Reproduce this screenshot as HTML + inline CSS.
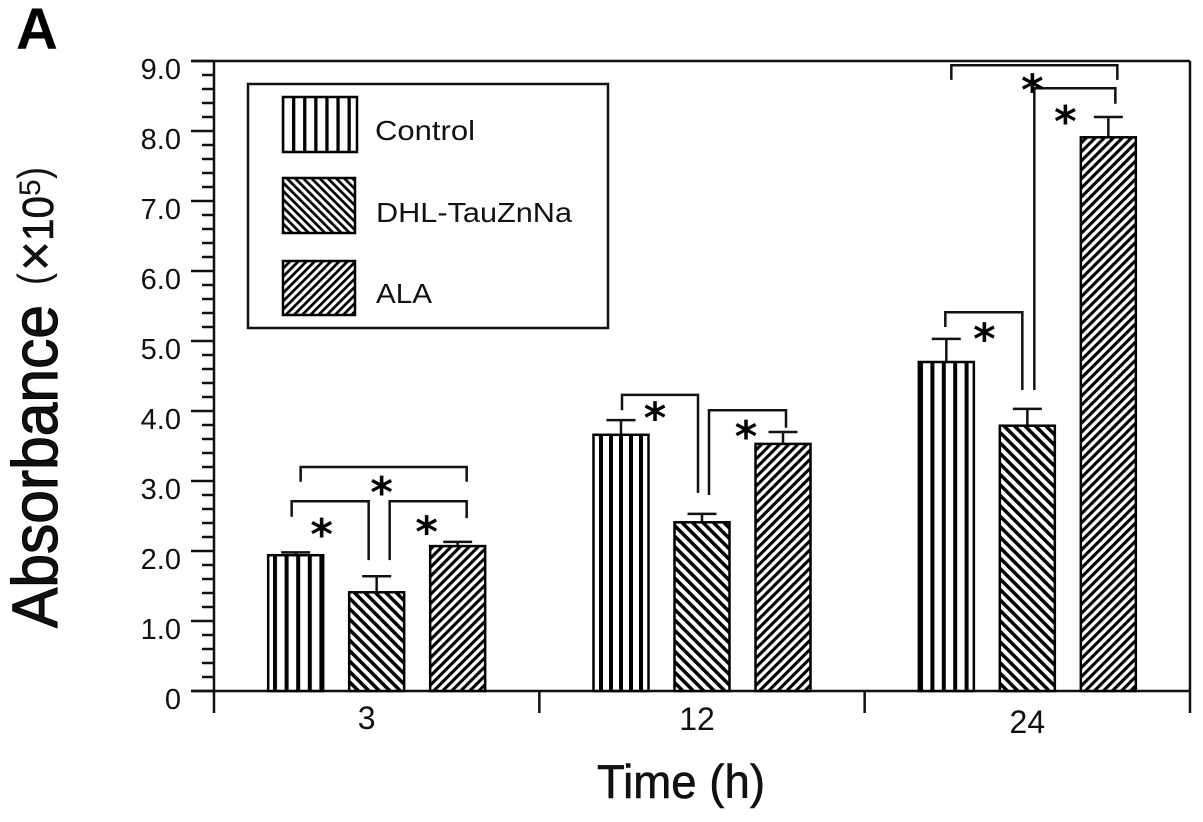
<!DOCTYPE html>
<html lang="en">
<head>
<meta charset="utf-8">
<title>Absorbance over time</title>
<style>
html,body{margin:0;padding:0;background:#fff;width:1203px;height:822px;overflow:hidden}
svg{display:block;filter:blur(0.35px)}
text{font-family:"Liberation Sans",sans-serif;fill:#111}
.heavy{stroke:#000;stroke-width:1.1px}
.mid{stroke:#000;stroke-width:.5px}
</style>
</head>
<body>
<svg id="chart" xmlns="http://www.w3.org/2000/svg" width="1203" height="822" viewBox="0 0 1203 822">
  <defs>
    <pattern id="stripe0" patternUnits="userSpaceOnUse" x="273" y="0" width="11.6" height="10"><rect width="11.6" height="10" fill="#fff"/><rect width="4" height="10" fill="#000"/></pattern>
    <pattern id="stripe1" patternUnits="userSpaceOnUse" x="599" y="0" width="10" height="10"><rect width="10" height="10" fill="#fff"/><rect width="4" height="10" fill="#000"/></pattern>
    <pattern id="stripe2" patternUnits="userSpaceOnUse" x="919" y="0" width="11.4" height="10"><rect width="11.4" height="10" fill="#fff"/><rect width="4" height="10" fill="#000"/></pattern>
    <pattern id="back0" patternUnits="userSpaceOnUse" width="7.4" height="10" patternTransform="rotate(-45)"><rect width="7.4" height="10" fill="#fff"/><rect width="3.5" height="10" fill="#000"/></pattern>
    <pattern id="fwd0" patternUnits="userSpaceOnUse" width="6.4" height="10" patternTransform="rotate(45)"><rect width="6.4" height="10" fill="#fff"/><rect width="3.1" height="10" fill="#000"/></pattern>
    <pattern id="legendStripe" patternUnits="userSpaceOnUse" x="292" y="0" width="11.1" height="10"><rect width="11.1" height="10" fill="#fff"/><rect width="3.3" height="10" fill="#000"/></pattern>
    <pattern id="legendBack" patternUnits="userSpaceOnUse" width="5.8" height="10" patternTransform="rotate(-45)"><rect width="5.8" height="10" fill="#fff"/><rect width="2.7" height="10" fill="#000"/></pattern>
    <pattern id="legendFwd" patternUnits="userSpaceOnUse" width="5.8" height="10" patternTransform="rotate(45)"><rect width="5.8" height="10" fill="#fff"/><rect width="2.7" height="10" fill="#000"/></pattern>
  </defs>

  <text x="16" y="49" font-size="58" font-weight="bold" style="fill:#000">A</text>

  <g id="axes"></g>
  <g id="marks"></g>
  <g id="notes"></g>

  <g>
    <rect x="248" y="84" width="360" height="244" fill="#fff" stroke="#111" stroke-width="2.5"/>
    <rect x="283" y="97" width="74" height="55" fill="url(#legendStripe)" stroke="#000" stroke-width="2.5"/>
    <text x="375" y="140" font-size="28" textLength="100" lengthAdjust="spacingAndGlyphs">Control</text>
    <rect x="283" y="178" width="72" height="55" fill="url(#legendBack)" stroke="#000" stroke-width="2.5"/>
    <text x="376" y="222" font-size="28" textLength="196" lengthAdjust="spacingAndGlyphs">DHL-TauZnNa</text>
    <rect x="283" y="261" width="72" height="54" fill="url(#legendFwd)" stroke="#000" stroke-width="2.5"/>
    <text x="376" y="303" font-size="28" textLength="56" lengthAdjust="spacingAndGlyphs">ALA</text>
  </g>

  <text class="heavy" transform="translate(57,628) rotate(-90)" font-size="64" textLength="323" lengthAdjust="spacingAndGlyphs">Absorbance</text>
  <text transform="translate(48,285) rotate(-90)" font-size="44" textLength="12" lengthAdjust="spacingAndGlyphs">(</text>
  <text class="mid" transform="translate(54,271) rotate(-90)" font-size="56" textLength="30" lengthAdjust="spacingAndGlyphs">×</text>
  <text class="mid" transform="translate(53,241) rotate(-90)" font-size="44" textLength="45" lengthAdjust="spacingAndGlyphs">10</text>
  <text transform="translate(40,196) rotate(-90)" font-size="30">5</text>
  <text transform="translate(48,179) rotate(-90)" font-size="44" textLength="12" lengthAdjust="spacingAndGlyphs">)</text>
  <text class="mid" x="597" y="798" font-size="47" textLength="168" lengthAdjust="spacingAndGlyphs">Time (h)</text>
</svg>

<script>
// Chart data
const categories = ['3', '12', '24'];
const seriesNames = ['Control', 'DHL-TauZnNa', 'ALA'];
const controlValues = [1.94, 3.66, 4.70];
const dhlValues = [1.41, 2.41, 3.79];
const alaValues = [2.07, 3.53, 7.91];
const controlErrors = [0.04, 0.21, 0.33];
const dhlErrors = [0.23, 0.12, 0.24];
const alaErrors = [0.06, 0.17, 0.29];
const yTickLabels = ['0', '1.0', '2.0', '3.0', '4.0', '5.0', '6.0', '7.0', '8.0', '9.0'];
const yMax = 9;
const minorPerMajor = 5;
// Significance brackets, in value units: group, from bar, to bar, bar level, left-leg end, right-leg end
const bracketGroups = [0, 0, 0, 1, 1, 2, 2, 2];
const bracketFrom = [0, 0, 1, 0, 1, 0, 1, 0];
const bracketTo = [2, 1, 2, 1, 2, 2, 2, 1];
const bracketLevels = [3.20, 2.71, 2.71, 4.23, 4.01, 8.94, 8.61, 5.41];
const bracketLeftEnds = [2.99, 2.49, 1.87, 4.01, 2.80, 8.73, 4.30, 5.20];
const bracketRightEnds = [2.99, 1.87, 2.47, 2.83, 3.76, 8.73, 8.39, 4.30];
// Significance stars: group, value level
const starGroups = [0, 0, 0, 1, 1, 2, 2, 2];
const starLevels = [2.31, 2.91, 2.34, 3.97, 3.71, 5.10, 8.66, 8.21];

const seriesValues = [controlValues, dhlValues, alaValues];
const seriesErrors = [controlErrors, dhlErrors, alaErrors];
const NS = 'http://www.w3.org/2000/svg';
const plotLeft = 214, plotRight = 1190, plotTop = 61, plotBottom = 691;

function yScale(v) { return plotBottom - (plotBottom - plotTop) * v / yMax; }
function bandEdge(i) { return plotLeft + (plotRight - plotLeft) * i / categories.length; }
function barCenter(g, s) { return (bandEdge(g) + bandEdge(g + 1)) / 2 + (s - 1) * 81; }

function shape(parent, tag, attrs) {
  const n = document.createElementNS(NS, tag);
  for (const k in attrs) n.setAttribute(k, attrs[k]);
  parent.appendChild(n);
  return n;
}
function line(parent, x1, y1, x2, y2, w) {
  return shape(parent, 'line', { x1: x1, y1: y1, x2: x2, y2: y2, stroke: '#111', 'stroke-width': w });
}

const axes = document.getElementById('axes');
const marks = document.getElementById('marks');
const notes = document.getElementById('notes');

// Frame
let el = line(axes, 191, plotTop, plotRight, plotTop, 2.5);


el = line(axes, plotRight, plotTop, plotRight, plotBottom + 22, 2.5);


el = line(axes, plotLeft, plotTop, plotLeft, plotBottom + 22, 2.5);


el = line(axes, 191, plotBottom, plotRight, plotBottom, 2.5);



// Y ticks
yTickLabels.forEach(function (label, i) {
  const y = yScale(i);
  const tick = line(axes, 191, y, plotLeft, y, 2.5);
  
  
  const t = shape(axes, 'text', { x: 181, y: y + 18, 'font-size': 29, 'text-anchor': 'end' });
  t.textContent = label;
  
  
  if (i < yTickLabels.length - 1) {
    for (let m = 1; m < minorPerMajor; m++) {
      const my = yScale(i + m / minorPerMajor);
      const minor = line(axes, 202, my, plotLeft, my, 2.5);
      
      
    }
  }
});

// X ticks and labels
const catLabelNudgeX = [-10, -5, 0];
const catLabelBaseline = [729, 730, 733];
for (let i = 1; i < categories.length; i++) {
  const tick = line(axes, bandEdge(i), plotBottom, bandEdge(i), plotBottom + 22, 2.5);
  
  
}
categories.forEach(function (c, g) {
  const t = shape(axes, 'text', {
    x: (bandEdge(g) + bandEdge(g + 1)) / 2 + catLabelNudgeX[g],
    y: catLabelBaseline[g], 'font-size': 32, 'text-anchor': 'middle'
  });
  t.textContent = c;
  
  
});

// Bars and error bars
const halfBar = 27.5;
seriesValues.forEach(function (values, s) {
  values.forEach(function (v, g) {
    const cx = barCenter(g, s);
    const top = yScale(v);
    const errTop = yScale(v + seriesErrors[s][g]);
    const fill = s === 0 ? 'url(#stripe' + g + ')' : (s === 1 ? 'url(#back0)' : 'url(#fwd0)');
    const stem = line(marks, cx, top, cx, errTop, 2.5);
    
    
    const cap = line(marks, cx - 14.5, errTop, cx + 14.5, errTop, 2.5);
    
    
    const bar = shape(marks, 'rect', {
      x: cx - halfBar, y: top, width: halfBar * 2, height: plotBottom - top,
      fill: fill, stroke: '#000', 'stroke-width': 2.5
    });
    
    
  });
});

// Significance brackets (leg offsets from bar centres are layout, not data)
const legNudgeLeft = [5, -4, 13, 1, 7, 5, 7, -1];
const legNudgeRight = [9, -8, 9, -4, 3, 9, 7, -5];
bracketGroups.forEach(function (g, i) {
  const xa = barCenter(g, bracketFrom[i]) + legNudgeLeft[i];
  const xb = barCenter(g, bracketTo[i]) + legNudgeRight[i];
  const pts = [
    [xa, yScale(bracketLeftEnds[i])],
    [xa, yScale(bracketLevels[i])],
    [xb, yScale(bracketLevels[i])],
    [xb, yScale(bracketRightEnds[i])]
  ].map(function (p) { return p.join(','); }).join(' ');
  const b = shape(notes, 'polyline', { points: pts, fill: 'none', stroke: '#111', 'stroke-width': 2.5 });
  
  
});

// Significance stars
const starAnchorBar = [0, 1, 2, 0, 2, 0, 1, 2];
const starNudgeX = [26, 5, -31, 34, -37, 38, 5, -43];
starGroups.forEach(function (g, i) {
  const t = shape(notes, 'text', {
    x: barCenter(g, starAnchorBar[i]) + starNudgeX[i],
    y: yScale(starLevels[i]) + 20,
    'text-anchor': 'middle', 'font-size': 43, 'font-weight': 'bold'
  });
  t.style.fontFamily = '"DejaVu Sans", sans-serif';
  t.style.fill = '#000';
  t.textContent = '*';
  
  
});
</script>
</body>
</html>
